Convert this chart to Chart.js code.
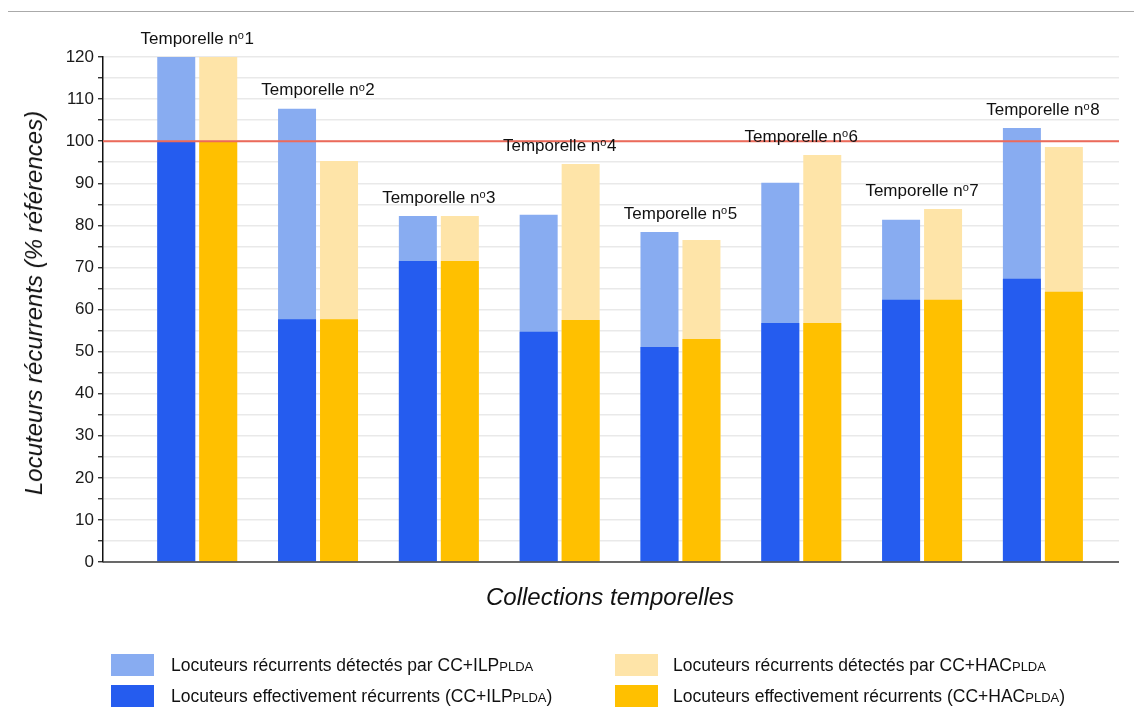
<!DOCTYPE html>
<html><head><meta charset="utf-8">
<script src="https://cdn.jsdelivr.net/npm/chart.js@4.4.1/dist/chart.umd.min.js"></script>
<style>
body{margin:0;background:#fff;font-family:"Liberation Sans",Arial,Helvetica,sans-serif;}
#wrap{position:relative;width:1134px;height:711px;overflow:hidden;}
#c{position:absolute;left:0;top:0;}
.frame{position:absolute;left:8px;top:11px;width:1126px;height:0;border-top:1.5px solid #aaa;}
.ytitle{position:absolute;left:34px;top:303px;transform:translate(-50%,-50%) rotate(-90deg);font-style:italic;font-size:24px;white-space:nowrap;color:#111;}
.xtitle{position:absolute;left:610px;top:597px;transform:translate(-50%,-50%);font-style:italic;font-size:24px;white-space:nowrap;color:#111;}
.leg{position:absolute;font-size:17.5px;color:#111;white-space:nowrap;line-height:22px;}
.leg .sw{position:absolute;left:0;top:0;width:43px;height:22px;}
.leg .tx{position:absolute;top:0;}
.leg small{font-size:13px;}
</style></head>
<body><div id="wrap">
<canvas id="c" width="1134" height="711"></canvas>
<div class="frame"></div>
<div class="ytitle">Locuteurs récurrents (% références)</div>
<div class="xtitle">Collections temporelles</div>
<div id="legend"></div>
</div>
<script>
// ---- data ----
const categories = ['Temporelle n°1','Temporelle n°2','Temporelle n°3','Temporelle n°4','Temporelle n°5','Temporelle n°6','Temporelle n°7','Temporelle n°8'];
const categoryNumbers = ['1','2','3','4','5','6','7','8'];
const detectedILP  = [120, 107.7, 82.2, 82.5, 78.4, 90.1, 81.3, 103.1];
const effectiveILP = [100, 57.7, 71.5, 54.7, 51.1, 56.8, 62.3, 67.3];
const detectedHAC  = [120, 95.3, 82.2, 94.6, 76.5, 96.7, 83.9, 98.6];
const effectiveHAC = [100, 57.7, 71.5, 57.5, 53.0, 56.8, 62.3, 64.2];
const referenceLevel = 100;
const yMin = 0, yMax = 120, yStep = 5, yLabelStep = 10;
const seriesLabels = [
  ['Locuteurs récurrents détectés par CC+ILP', 'PLDA', ''],
  ['Locuteurs effectivement récurrents (CC+ILP', 'PLDA', ')'],
  ['Locuteurs récurrents détectés par CC+HAC', 'PLDA', ''],
  ['Locuteurs effectivement récurrents (CC+HAC', 'PLDA', ')']
];

const C_LBLUE = '#88acf1', C_BLUE = '#255cef', C_LYEL = '#fee4a8', C_YEL = '#ffc000';

// legend (HTML, for the PLDA subscript styling)
const legendPos = [[111,654],[111,685],[615,654],[615,685]];
const legendCol = [C_LBLUE, C_BLUE, C_LYEL, C_YEL];
const legEl = document.getElementById('legend');
seriesLabels.forEach((s,i)=>{
  const d = document.createElement('div');
  d.className='leg';
  d.style.left = legendPos[i][0]+'px';
  d.style.top = legendPos[i][1]+'px';
  d.innerHTML = '<div class="sw" style="background:'+legendCol[i]+'"></div><div class="tx" style="left:'+(i<2?60:58)+'px">'+s[0]+'<small>'+s[1]+'</small>'+s[2]+'</div>';
  legEl.appendChild(d);
});

const toXY = arr => arr.map((v,i)=>({x:i+1, y:v}));

const overlay = {
  id:'overlay',
  afterDatasetsDraw(chart){
    const ctx = chart.ctx, y = chart.scales.y, x = chart.scales.x, a = chart.chartArea;
    ctx.save();
    // zero baseline
    ctx.strokeStyle = 'rgba(60,60,60,0.75)'; ctx.lineWidth = 2;
    ctx.beginPath(); ctx.moveTo(a.left, y.getPixelForValue(0)); ctx.lineTo(a.right, y.getPixelForValue(0)); ctx.stroke();
    // reference line
    ctx.strokeStyle = '#ec6a5a'; ctx.lineWidth = 2;
    const ry = y.getPixelForValue(referenceLevel);
    ctx.beginPath(); ctx.moveTo(a.left, ry); ctx.lineTo(a.right, ry); ctx.stroke();
    // category labels
    ctx.fillStyle = '#111'; ctx.textBaseline = 'middle';
    categoryNumbers.forEach((n,i)=>{
      const top = Math.max(detectedILP[i], detectedHAC[i]);
      const cy = y.getPixelForValue(top) - 18;
      const cx = x.getPixelForValue(i+1);
      const big = '17px "Liberation Sans", Arial, sans-serif';
      const small = '11px "Liberation Sans", Arial, sans-serif';
      ctx.font = big; const w1 = ctx.measureText('Temporelle n').width; const w3 = ctx.measureText(n).width;
      ctx.font = small; const w2 = ctx.measureText('o').width + 0.5;
      let sx = cx - (w1+w2+w3)/2;
      ctx.textAlign = 'left';
      ctx.font = big; ctx.fillText('Temporelle n', sx, cy);
      ctx.font = small; ctx.fillText('o', sx + w1, cy - 3);
      ctx.font = big; ctx.fillText(n, sx + w1 + w2, cy);
    });
    ctx.restore();
  }
};

new Chart(document.getElementById('c'), {
  type:'bar',
  data:{
    datasets:[
      {label:seriesLabels[1][0], data:toXY(effectiveILP), backgroundColor:C_BLUE, stack:'ilp'},
      {label:seriesLabels[3][0], data:toXY(effectiveHAC), backgroundColor:C_YEL, stack:'hac'},
      {label:seriesLabels[0][0], data:toXY(detectedILP), backgroundColor:C_LBLUE, stack:'ilp'},
      {label:seriesLabels[2][0], data:toXY(detectedHAC), backgroundColor:C_LYEL, stack:'hac'}
    ]
  },
  options:{
    responsive:false, animation:false,
    layout:{padding:{top:57,right:15,left:0,bottom:0}},
    categoryPercentage:0.695, barPercentage:0.905,
    plugins:{legend:{display:false}, tooltip:{enabled:false}},
    scales:{
      x:{type:'linear', stacked:true, offset:false, min:0.22, max:8.63,
         afterBuildTicks(s){ s.ticks = categoryNumbers.map((_,i)=>({value:i+1})); },
         afterFit(s){s.height = 149;},
         ticks:{display:false}, grid:{display:false, drawTicks:false},
         border:{display:false}},
      y:{stacked:false, min:yMin, max:yMax,
         afterFit(s){s.width = 103;},
         ticks:{stepSize:yStep, autoSkip:false, padding:4, color:'#1a1a1a',
                font:{size:17, family:'"Liberation Sans", Arial, sans-serif'},
                callback:v => (v % yLabelStep === 0 ? String(v) : '')},
         grid:{color:'#e9e9e9', lineWidth:1.5, tickLength:5, tickColor:'#111', tickWidth:1.2},
         border:{display:true, color:'#111', width:1.5}}
    }
  },
  plugins:[overlay]
});
</script>
</body></html>
